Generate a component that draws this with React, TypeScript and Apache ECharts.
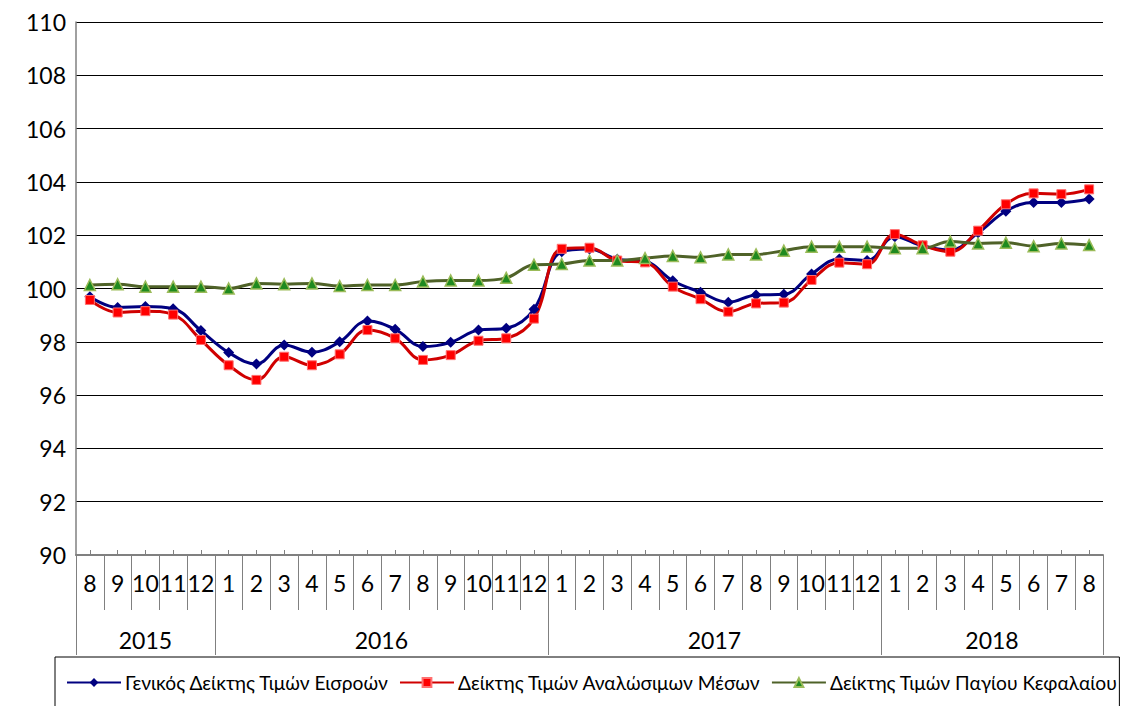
import React, { useEffect, useRef } from "react";
import * as echarts from "echarts";

const months = [
  "8", "9", "10", "11", "12",
  "1", "2", "3", "4", "5", "6", "7", "8", "9", "10", "11", "12",
  "1", "2", "3", "4", "5", "6", "7", "8", "9", "10", "11", "12",
  "1", "2", "3", "4", "5", "6", "7", "8",
];
const years = ["2015", "2016", "2017", "2018"];
const yearBounds = [0, 5, 17, 29, 37];

const generalIndex = [
  99.69, 99.29, 99.32, 99.24, 98.42,
  97.6, 97.17, 97.88, 97.61, 98.0, 98.78, 98.47, 97.82, 97.98, 98.44, 98.51, 99.22,
  101.38, 101.48, 101.1, 101.02, 100.29, 99.86, 99.48, 99.76, 99.78, 100.54, 101.11, 101.05,
  101.94, 101.6, 101.45, 102.09, 102.9, 103.23, 103.23, 103.36,
];
const consumablesIndex = [
  99.57, 99.1, 99.15, 99.02, 98.07,
  97.12, 96.57, 97.44, 97.12, 97.53, 98.44, 98.13, 97.32, 97.5, 98.04, 98.13, 98.87,
  101.49, 101.53, 101.05, 100.98, 100.07, 99.6, 99.13, 99.44, 99.47, 100.32, 100.97, 100.91,
  102.04, 101.62, 101.38, 102.17, 103.16, 103.57, 103.54, 103.72,
];
const capitalIndex = [
  100.13, 100.16, 100.07, 100.07, 100.07,
  100.0, 100.19, 100.16, 100.19, 100.09, 100.13, 100.13, 100.26, 100.3, 100.3, 100.4, 100.89,
  100.92, 101.05, 101.05, 101.14, 101.22, 101.17, 101.28, 101.28, 101.42, 101.57, 101.57, 101.57,
  101.51, 101.51, 101.76, 101.69, 101.72, 101.59, 101.69, 101.63,
];

const seriesNames = [
  "Γενικός Δείκτης Τιμών Εισροών",
  "Δείκτης Τιμών Αναλώσιμων Μέσων",
  "Δείκτης Τιμών Παγίου Κεφαλαίου",
];

const FONT = "Lato, 'Noto Sans', sans-serif";

export default function App() {
  const ref = useRef<HTMLDivElement>(null);

  useEffect(() => {
    document.body.style.margin = "0";
    if (!ref.current) return;
    const chart = echarts.init(ref.current, undefined, { renderer: "svg" });
    const yearCenters = years.map((_, i) => (yearBounds[i] + yearBounds[i + 1]) / 2);
    chart.setOption({
      animation: false,
      textStyle: { fontFamily: FONT, color: "#000" },
      grid: { left: 76, right: 32, top: 22, bottom: 151 },
      legend: {
        data: seriesNames,
        left: 55,
        top: 657,
        width: 1080,
        orient: "horizontal",
        borderColor: "#000",
        borderWidth: 1,
        padding: [16, 2, 30, 11],
        itemWidth: 54,
        itemHeight: 11,
        itemGap: 10,
        textStyle: { fontSize: 19.2, color: "#000", fontFamily: FONT, padding: [0, 0, 0, -1] },
      },
      xAxis: [
        {
          type: "category",
          data: months,
          boundaryGap: true,
          axisLine: { show: true, lineStyle: { color: "#808080", width: 2 } },
          axisTick: {
            show: true,
            alignWithLabel: false,
            interval: 0,
            length: 55,
            lineStyle: { color: "#808080", width: 1 },
          },
          axisLabel: { interval: 0, fontSize: 23, color: "#000", margin: 16, fontFamily: FONT },
          splitLine: { show: false },
        },
        {
          type: "category",
          data: months,
          boundaryGap: true,
          position: "bottom",
          axisLine: { show: false },
          axisTick: {
            show: true,
            inside: true,
            alignWithLabel: true,
            interval: 0,
            length: 5,
            lineStyle: { color: "#808080", width: 1 },
          },
          axisLabel: { show: false },
          splitLine: { show: false },
        },
        {
          type: "value",
          min: 0,
          max: yearBounds[yearBounds.length - 1],
          position: "bottom",
          offset: 55,
          axisLine: { show: false },
          splitLine: { show: false },
          axisTick: {
            show: true,
            customValues: yearBounds,
            length: 45,
            lineStyle: { color: "#808080", width: 1 },
          },
          axisLabel: {
            customValues: yearCenters,
            fontSize: 23,
            color: "#000",
            margin: 18,
            fontFamily: FONT,
            formatter: (v: number) => {
              const i = yearCenters.findIndex((c) => Math.abs(c - v) < 1e-6);
              return i >= 0 ? years[i] : "";
            },
          },
        },
      ],
      yAxis: {
        type: "value",
        min: 90,
        max: 110,
        interval: 2,
        axisLine: { show: true, lineStyle: { color: "#808080", width: 1.5 } },
        axisTick: { show: false },
        axisLabel: { fontSize: 23, color: "#000", margin: 10, fontFamily: FONT },
        splitLine: { show: true, lineStyle: { color: "#000", width: 1 } },
      },
      series: [
        {
          name: seriesNames[0],
          type: "line",
          data: generalIndex,
          smooth: 0.4,
          symbol: "diamond",
          symbolSize: 11,
          lineStyle: { color: "#000080", width: 3 },
          itemStyle: { color: "#000080" },
        },
        {
          name: seriesNames[1],
          type: "line",
          data: consumablesIndex,
          smooth: 0.4,
          symbol: "rect",
          symbolSize: 9,
          lineStyle: { color: "#D00000", width: 3 },
          itemStyle: { color: "#FF0000", borderColor: "#FF7070", borderWidth: 1 },
        },
        {
          name: seriesNames[2],
          type: "line",
          data: capitalIndex,
          smooth: 0.4,
          symbol: "triangle",
          symbolSize: 11,
          lineStyle: { color: "#4F6228", width: 3 },
          itemStyle: { color: "#1F8A1F", borderColor: "#9BBB59", borderWidth: 1.5 },
        },
      ],
    });
    return () => chart.dispose();
  }, []);

  return <div ref={ref} style={{ width: 1135, height: 706 }} />;
}
